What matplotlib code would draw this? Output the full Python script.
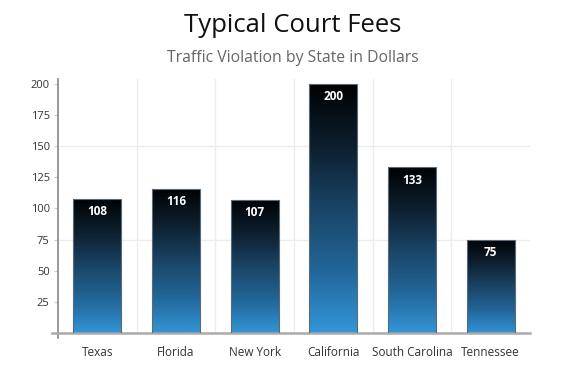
import numpy as np
import matplotlib
matplotlib.use("Agg")
import matplotlib.pyplot as plt
from matplotlib.colors import LinearSegmentedColormap
from matplotlib.patches import Rectangle

states = ["Texas", "Florida", "New York", "California", "South Carolina", "Tennessee"]
fees = [108, 116, 107, 200, 133, 75]
yticks = [25, 50, 75, 100, 125, 150, 175, 200]
grid_y = [75, 150]

plt.rcParams['font.family'] = ['Open Sans', 'DejaVu Sans']

fig = plt.figure(figsize=(5.85, 3.89), dpi=100)
ax = fig.add_axes([58/585, 1-333/389, (530-58)/585, (333-79)/389])

cmap = LinearSegmentedColormap.from_list("g", ["#3498db", "#22679a", "#1a4465", "#0c1e2d", "#000000"])
grad = np.linspace(0, 1, 256).reshape(-1, 1)

x = np.arange(len(states))
w = 0.61
ax.set_xlim(-0.5, len(states) - 0.5)
ax.set_ylim(0, 204)

for gy in grid_y:
    ax.axhline(gy, color="#ececec", lw=1, zorder=0)
for b in np.arange(0.5, len(states) - 0.5, 1):
    ax.axvline(b, color="#ececec", lw=1, zorder=0)

for xi, v in zip(x, fees):
    rect = Rectangle((xi - w/2, 0), w, v, facecolor="none", edgecolor="#5a6a78", lw=0.8, zorder=3)
    ax.add_patch(rect)
    im = ax.imshow(grad, cmap=cmap, origin="lower", aspect="auto",
                   extent=[xi - w/2, xi + w/2, -2, v + 2], zorder=2, interpolation="bilinear")
    im.set_clip_path(rect)
    ax.text(xi, v - 5, str(v), ha="center", va="top", color="white",
            fontsize=8.5, fontweight="bold", zorder=4)

ax.set_xticks(x)
ax.set_xticklabels(states, fontsize=8.5, color="#333333")
ax.set_yticks(yticks)
ax.set_yticklabels([str(t) for t in yticks], fontsize=8, color="#333333")
ax.tick_params(axis="y", length=3, color="#cccccc", pad=3)
ax.tick_params(axis="x", length=0, pad=9)

for s in ["top", "right"]:
    ax.spines[s].set_visible(False)
ax.spines["left"].set_color("#888888")
ax.spines["left"].set_linewidth(1.2)
ax.spines["left"].set_bounds(-4, 204)
ax.spines["bottom"].set_color("#aaaaaa")
ax.spines["bottom"].set_linewidth(1.8)
ax.spines["bottom"].set_bounds(-0.58, len(states) - 0.5)

fig.text(0.5, 1-25/389, "Typical Court Fees", ha="center", va="center", fontsize=18.5, color="#111111")
fig.text(0.5, 1-58/389, "Traffic Violation by State in Dollars", ha="center", va="center", fontsize=11.3, color="#666666")

fig.savefig("out.png", dpi=100)
